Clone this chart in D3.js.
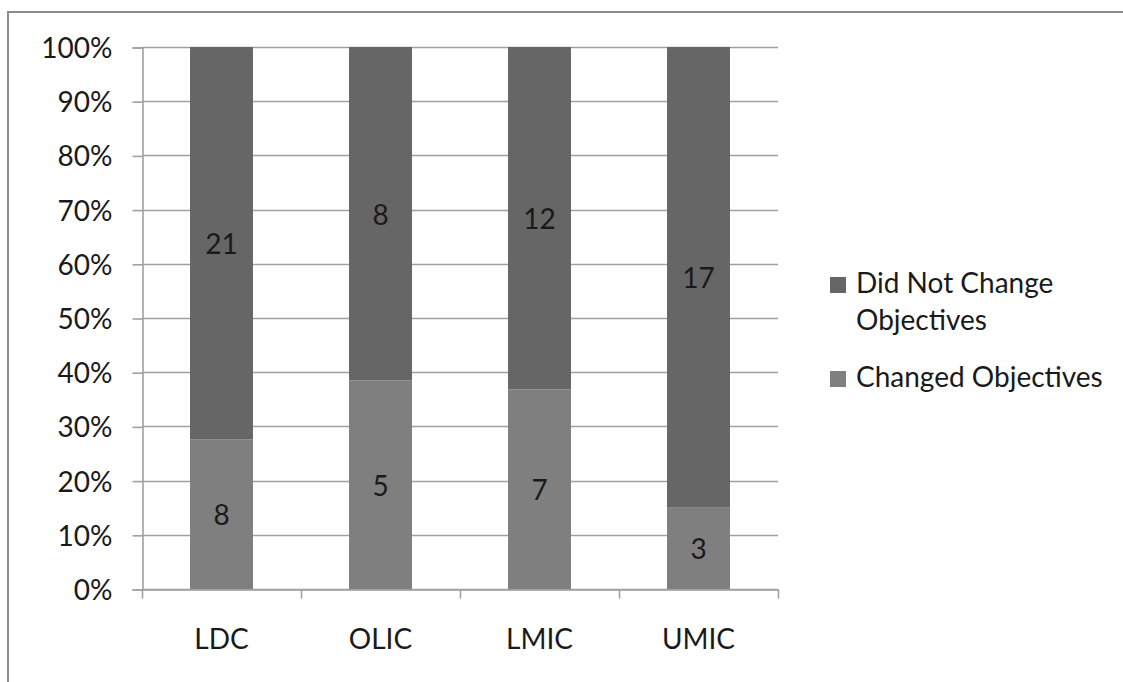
<!DOCTYPE html>
<html>
<head>
<meta charset="utf-8">
<script src="https://cdn.jsdelivr.net/npm/d3@7"></script>
<style>
  html, body { margin: 0; padding: 0; background: #fff; }
  svg { display: block; }
  text { font-family: Lato, "Open Sans", sans-serif; fill: #1a1a1a; }
</style>
</head>
<body>
<svg id="chart" width="1123" height="682"></svg>
<script>
const categories = ["LDC", "OLIC", "LMIC", "UMIC"];
const changedObjectives = [8, 5, 7, 3];
const didNotChangeObjectives = [21, 8, 12, 17];
const seriesNames = ["Changed Objectives", "Did Not Change Objectives"];
const legendLines = [["Did Not Change", "Objectives"], ["Changed Objectives"]];
const yTicks = [0, 0.1, 0.2, 0.3, 0.4, 0.5, 0.6, 0.7, 0.8, 0.9, 1.0];
const colors = { "Changed Objectives": "#7f7f7f", "Did Not Change Objectives": "#666666" };

const svg = d3.select("#chart");
const FS = 28;

// outer frame
svg.append("rect").attr("x", 8).attr("y", 12).attr("width", 1200).attr("height", 800)
  .attr("fill", "none").attr("stroke", "#8c8c8c").attr("stroke-width", 2);

const x = d3.scaleBand().domain(categories).range([142, 778])
  .paddingInner(0.604).paddingOuter(0.302);
const y = d3.scaleLinear().domain([0, 1]).range([589, 47]);

const table = categories.map((c, i) => ({
  category: c,
  "Changed Objectives": changedObjectives[i],
  "Did Not Change Objectives": didNotChangeObjectives[i]
}));
const stack = d3.stack().keys(seriesNames).offset(d3.stackOffsetExpand);
const layers = stack(table);

// gridlines
svg.append("g").selectAll("line").data(yTicks).join("line")
  .attr("x1", 142).attr("x2", 778)
  .attr("y1", d => Math.round(y(d)) + 0.5).attr("y2", d => Math.round(y(d)) + 0.5)
  .attr("stroke", "#a0a0a0").attr("stroke-width", 1.6);

// y axis
const yAxis = d3.axisLeft(y).tickValues(yTicks).tickSize(10).tickPadding(20)
  .tickFormat(d3.format(".0%"));
const gy = svg.append("g").attr("transform", "translate(142.5,0.5)").call(yAxis);
gy.select(".domain").attr("stroke", "#a0a0a0").attr("stroke-width", 1.6);
gy.selectAll(".tick line").attr("stroke", "#a0a0a0").attr("stroke-width", 1.6);
gy.selectAll(".tick text").attr("font-size", FS).attr("font-family", "Lato, sans-serif")
  .attr("fill", "#1a1a1a").attr("dy", "0.36em");

// x axis
const xAxis = d3.axisBottom(x).tickSize(0).tickPadding(40);
const gx = svg.append("g").attr("transform", "translate(0,589.5)").call(xAxis);
gx.select(".domain").attr("stroke", "#a0a0a0").attr("stroke-width", 1.6);
gx.selectAll(".tick text").attr("font-size", FS).attr("font-family", "Lato, sans-serif")
  .attr("fill", "#1a1a1a");
// category separator ticks
const step = x.step();
const boundaries = d3.range(categories.length + 1).map(i => x.range()[0] + i * step);
gx.selectAll("line.sep").data(boundaries).join("line").attr("class", "sep")
  .attr("x1", d => Math.round(d) + 0.5).attr("x2", d => Math.round(d) + 0.5)
  .attr("y1", 0).attr("y2", 9).attr("stroke", "#a0a0a0").attr("stroke-width", 1.6);

// bars
const gBars = svg.append("g");
layers.forEach(layer => {
  gBars.append("g").attr("fill", colors[layer.key]).selectAll("rect").data(layer).join("rect")
    .attr("x", d => x(d.data.category))
    .attr("width", x.bandwidth())
    .attr("y", d => y(d[1]))
    .attr("height", d => y(d[0]) - y(d[1]));
  gBars.append("g").selectAll("text").data(layer).join("text")
    .attr("x", d => x(d.data.category) + x.bandwidth() / 2)
    .attr("y", d => y((d[0] + d[1]) / 2) + 1)
    .attr("dy", "0.36em")
    .attr("text-anchor", "middle")
    .attr("font-size", FS)
    .text(d => d.data[layer.key]);
});

// legend
const legendKeys = ["Did Not Change Objectives", "Changed Objectives"];
const legendY = [293, 387];
legendKeys.forEach((k, i) => {
  svg.append("rect").attr("x", 830).attr("y", legendY[i] - 16).attr("width", 16).attr("height", 16)
    .attr("fill", colors[k]);
  const t = svg.append("text").attr("x", 856).attr("y", legendY[i]).attr("font-size", FS);
  legendLines[i].forEach((ln, j) => {
    t.append("tspan").attr("x", 856).attr("dy", j === 0 ? 0 : 37).text(ln);
  });
});
</script>
</body>
</html>
